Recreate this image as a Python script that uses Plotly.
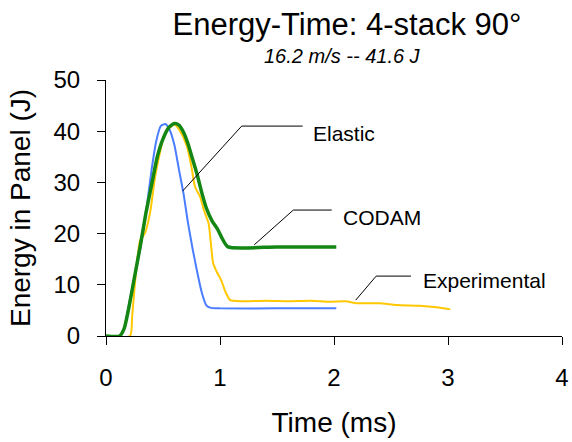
import plotly.graph_objects as go

# Energy absorbed by the panel over time for three models / measurements
t_elastic = [0, 0.12, 0.16, 0.20, 0.25, 0.30, 0.35, 0.40, 0.44, 0.48, 0.52, 0.56,
             0.60, 0.64, 0.68, 0.72, 0.76, 0.80, 0.84, 0.88, 0.92, 1.0, 1.5, 2.02]
e_elastic = [0, 0, 1.5, 6, 11.5, 17, 24, 32.5, 38, 41, 41.4, 40.2,
             37.3, 32.5, 27.8, 22, 17, 12.5, 8.5, 6, 5.5, 5.4, 5.4, 5.4]

t_codam = [0, 0.12, 0.16, 0.20, 0.24, 0.30, 0.35, 0.40, 0.45, 0.50, 0.55, 0.60,
           0.64, 0.68, 0.72, 0.76, 0.80, 0.84, 0.88, 0.93, 0.98, 1.02, 1.07, 1.5, 2.02]
e_codam = [0, 0, 1.5, 5.5, 10.3, 17.5, 24, 29.5, 35, 38.5, 40.7, 41.5,
           41.2, 39.8, 37.5, 34.5, 31.5, 28, 25, 22.5, 20.8, 19, 17.4, 17.4, 17.4]

t_exp = [0, 0.21, 0.23, 0.254, 0.28, 0.30, 0.34, 0.386, 0.43, 0.47, 0.50, 0.55,
         0.60, 0.65, 0.71, 0.75, 0.78, 0.825, 0.86, 0.90, 0.94, 0.97, 1.01, 1.05,
         1.09, 1.2, 1.4, 1.6, 1.8, 1.96, 2.1, 2.2, 2.4, 2.55, 2.75, 2.9, 3.02]
e_exp = [0, 0, 4, 10.3, 16, 18.75, 20, 24, 31, 35.5, 38.3, 40.5,
         41.3, 40, 37, 33, 29.2, 27.2, 24.5, 22, 14.2, 12.6, 10.9, 8.5,
         7.0, 6.8, 6.9, 6.8, 6.9, 6.7, 6.8, 6.4, 6.4, 6.05, 5.9, 5.6, 5.2]

x_ticks = [0, 1, 2, 3, 4]
y_ticks = [0, 10, 20, 30, 40, 50]

# Callout labels: text, leader-line path (time, energy), label anchor
callouts = [
    ("Elastic", [0.672, 1.19, 1.725], [28.3, 41.0, 41.0], (1.80, 39.6)),
    ("CODAM", [1.30, 1.643, 1.98], [17.8, 24.6, 24.6], (2.06, 23.2)),
    ("Experimental", [2.19, 2.37, 2.675], [7.0, 11.7, 11.7], (2.76, 10.8)),
]

FONT = "Arial, Liberation Sans, sans-serif"

fig = go.Figure()
fig.add_trace(go.Scatter(x=t_exp, y=e_exp, mode="lines", name="Experimental",
                         line=dict(color="#ffc800", width=2, shape="spline", smoothing=0.6)))
fig.add_trace(go.Scatter(x=t_elastic, y=e_elastic, mode="lines", name="Elastic",
                         line=dict(color="#4a7dff", width=2, shape="spline", smoothing=0.6)))
fig.add_trace(go.Scatter(x=t_codam, y=e_codam, mode="lines", name="CODAM",
                         line=dict(color="#138613", width=3.5, shape="spline", smoothing=0.6)))

for text, lx, ly, (ax, ay) in callouts:
    fig.add_trace(go.Scatter(x=lx, y=ly, mode="lines", showlegend=False,
                             line=dict(color="black", width=1), hoverinfo="skip"))
    fig.add_annotation(x=ax, y=ay, text=text, showarrow=False, xanchor="left",
                       yanchor="middle", font=dict(family=FONT, size=21, color="black"))

fig.add_annotation(xref="paper", yref="paper", x=0.518, y=1.094,
                   text="<i>16.2 m/s -- 41.6 J</i>", showarrow=False,
                   xanchor="center", yanchor="middle",
                   font=dict(family=FONT, size=20, color="black"))

fig.update_layout(
    width=572, height=442,
    margin=dict(l=106, r=10, t=80, b=106),
    paper_bgcolor="white", plot_bgcolor="white",
    showlegend=False,
    title=dict(text="Energy-Time: 4-stack 90°", x=0.6066, xanchor="center",
               y=0.9457, yanchor="middle",
               font=dict(family=FONT, size=31, color="black")),
    font=dict(family=FONT, color="black"),
)
fig.update_xaxes(range=[0, 4], tickvals=x_ticks, showgrid=False, zeroline=False,
                 showline=True, linecolor="black", linewidth=1, automargin=False,
                 ticks="outside", ticklen=8, tickcolor="black",
                 tickfont=dict(size=24), ticklabelstandoff=12,
                 title=dict(text="Time (ms)", font=dict(size=28), standoff=22))
fig.update_yaxes(range=[0, 50], tickvals=y_ticks, showgrid=False, zeroline=False,
                 showline=True, linecolor="black", linewidth=1, automargin=False,
                 ticks="outside", ticklen=8, tickcolor="black",
                 tickfont=dict(size=24), ticklabelstandoff=12,
                 title=dict(text="Energy in Panel (J)", font=dict(size=28), standoff=14))

fig.write_html("out.html")
